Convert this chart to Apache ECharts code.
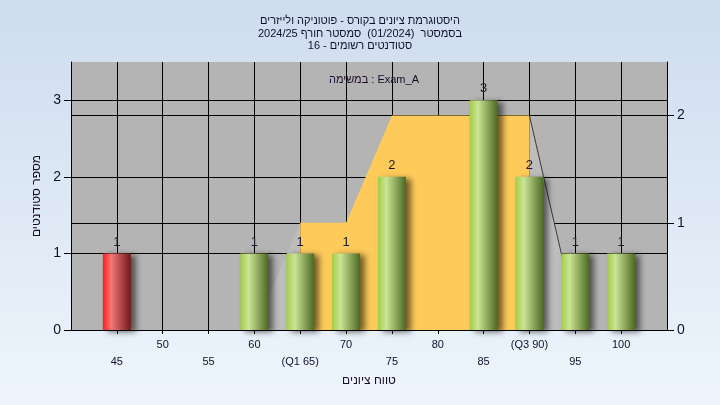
<!DOCTYPE html>
<html>
<head>
<meta charset="utf-8">
<script src="https://cdn.jsdelivr.net/npm/echarts@6/dist/echarts.min.js"></script>
<style>
    html, body { margin: 0; padding: 0; }
    #chart { width: 720px; height: 405px; }
</style>
</head>
<body>
<div id="chart"></div>
<script>
// grade buckets and student counts
const grades = [45, 50, 55, 60, 65, 70, 75, 80, 85, 90, 95, 100];
const counts = [1, 0, 0, 1, 1, 1, 2, 0, 3, 2, 1, 1];
const tickLabels = ['45', '50', '55', '60', '(Q1 65)', '70', '75', '80', '85', '(Q3 90)', '95', '100'];
const failGrade = 45;

// quartile overlay (right axis)
const leftTail = [[60, 0], [65, 1]];
const boxArea = [[65, 1], [70, 1], [75, 2], [90, 2]];
const rightTail = [[90, 2], [95.4, 0]];

const titleText = 'היסטוגרמת ציונים בקורס - פוטוניקה ולייזרים\nבסמסטר  (01/2024)  סמסטר חורף 2024/25\nסטודנטים רשומים - 16';
const taskText = 'במשימה : Exam_A';

const font = 'Liberation Sans';
const dark = '#10102e';

function barColor(g) {
    let c = g === failGrade
        ? ['#ff1c1c', '#f07878', '#721818']
        : ['#a2cc48', '#cbe496', '#4c6822'];
    return new echarts.graphic.LinearGradient(0, 0, 1, 0, [
        {offset: 0, color: c[0]},
        {offset: 0.3, color: c[1]},
        {offset: 1, color: c[2]}
    ]);
}

let barData = grades.map((g, i) => ({
    value: [g, counts[i]],
    itemStyle: {color: barColor(g)},
    label: {show: counts[i] > 0}
}));

let chart = echarts.init(document.getElementById('chart'));
let option = {
    backgroundColor: new echarts.graphic.LinearGradient(0, 0, 0, 1, [
        {offset: 0, color: '#cedcee'},
        {offset: 1, color: '#eef5fc'}
    ]),
    animation: false,
    title: [
        {
            text: titleText,
            left: 'center',
            top: 10,
            textStyle: {fontFamily: font, fontSize: 11, fontWeight: 'normal', color: dark, lineHeight: 12.5}
        },
        {
            text: taskText,
            left: 324,
            top: 69,
            textStyle: {fontFamily: font, fontSize: 11, fontWeight: 'normal', color: '#1a0a28'}
        }
    ],
    grid: {
        left: 71, right: 53, top: 62, bottom: 75,
        show: true, backgroundColor: '#b4b4b4', borderWidth: 0
    },
    xAxis: {
        type: 'value',
        min: 40, max: 105, interval: 5,
        name: 'טווח ציונים',
        nameLocation: 'middle',
        nameGap: 44,
        nameTextStyle: {fontFamily: font, fontSize: 12, color: '#1a0a28'},
        axisLine: {lineStyle: {color: '#000'}},
        axisTick: {length: 4, lineStyle: {color: '#000'}},
        splitLine: {show: true, lineStyle: {color: '#000', width: 1}},
        axisLabel: {
            fontFamily: font, fontSize: 11, color: dark, margin: 6, lineHeight: 17,
            showMinLabel: false, showMaxLabel: false,
            formatter: v => {
                let i = grades.indexOf(v);
                if (i < 0) return '';
                return i % 2 === 0 ? '\n' + tickLabels[i] : tickLabels[i];
            }
        }
    },
    yAxis: [
        {
            type: 'value',
            min: 0, max: 3.5, interval: 1,
            name: 'מספר סטודנטים',
            nameLocation: 'middle',
            nameGap: 27,
            nameTextStyle: {fontFamily: font, fontSize: 12, color: '#1a0a28'},
            axisLine: {show: true, lineStyle: {color: '#000'}},
            axisTick: {show: true, length: 7, lineStyle: {color: '#000'}, customValues: [0, 1, 2, 3]},
            axisLabel: {fontFamily: font, fontSize: 14, color: dark, margin: 10, customValues: [0, 1, 2, 3]},
            splitLine: {show: true, lineStyle: {color: ['#000', '#000', '#000', '#000', 'rgba(0,0,0,0)'], width: 1}}
        },
        {
            type: 'value',
            min: 0, max: 2.5, interval: 1,
            position: 'right',
            axisLine: {show: true, lineStyle: {color: '#000'}},
            axisTick: {show: true, length: 7, lineStyle: {color: '#000'}, customValues: [0, 1, 2]},
            axisLabel: {fontFamily: font, fontSize: 14, color: dark, margin: 10, customValues: [0, 1, 2]},
            splitLine: {show: true, lineStyle: {color: ['#000', '#000', '#000', 'rgba(0,0,0,0)'], width: 1}}
        }
    ],
    series: [
        {
            type: 'line', yAxisIndex: 1, data: leftTail, symbol: 'none', z: 1,
            lineStyle: {width: 0}, areaStyle: {color: '#bdbdbd', opacity: 1}
        },
        {
            type: 'line', yAxisIndex: 1, data: boxArea, symbol: 'none', z: 1,
            lineStyle: {width: 0}, areaStyle: {color: '#fecb5a', opacity: 1}
        },
        {
            type: 'line', yAxisIndex: 1, data: rightTail, symbol: 'none', z: 1,
            lineStyle: {width: 1, color: '#3a3a3a'}, areaStyle: {color: '#bdbdbd', opacity: 1}
        },
        {
            type: 'bar', yAxisIndex: 0, data: barData, barWidth: 28, z: 5,
            itemStyle: {shadowColor: 'rgba(0,0,0,0.55)', shadowBlur: 6, shadowOffsetX: 5, shadowOffsetY: 2},
            label: {position: 'top', distance: 5, fontFamily: font, fontSize: 13, color: '#1a1a2a'}
        }
    ]
};
option && chart.setOption(option);
</script>
</body>
</html>
